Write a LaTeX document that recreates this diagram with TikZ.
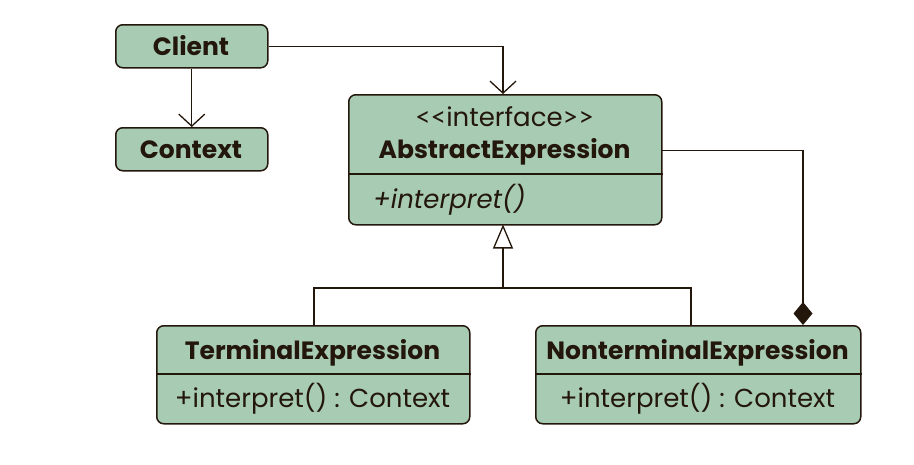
\documentclass[tikz,border=0pt]{standalone}
\usepackage{fontspec}
\setmainfont{Poppins}
\newfontfamily\ltfont{Lato}
\usetikzlibrary{arrows.meta,calc}
\definecolor{boxfill}{HTML}{A8CBB4}
\definecolor{ink}{HTML}{23160B}
\begin{document}
\begin{tikzpicture}[x=1pt,y=-1pt,
  box/.style={draw=ink,fill=boxfill,line width=1.5pt,rounded corners=7pt,inner sep=0pt,anchor=north west},
  ttl/.style={font=\bfseries\fontsize{25}{30}\selectfont,text=ink,anchor=base,inner sep=0pt},
  bdy/.style={font=\fontsize{26}{30}\selectfont,text=ink,anchor=base,inner sep=0pt},
  conn/.style={draw=ink,line width=1.3pt},
  openarr/.style={-{Straight Barb[length=12pt,width=26pt]}},
]
\useasboundingbox (0,0) rectangle (914,464);
% boxes
\node[box,minimum width=152pt,minimum height=43pt] (client) at (115,24) {};
\node[box,minimum width=152pt,minimum height=43pt] (context) at (115,127) {};
\node[box,minimum width=313pt,minimum height=130pt] (abs) at (348,94) {};
\node[box,minimum width=313pt,minimum height=98pt] (term) at (156,325) {};
\node[box,minimum width=325pt,minimum height=98pt] (nonterm) at (535,325) {};
% dividers
\draw[draw=ink,line width=1.3pt] (abs.west |- 0,174) -- (abs.east |- 0,174);
\draw[draw=ink,line width=1.3pt] (term.west |- 0,374) -- (term.east |- 0,374);
\draw[draw=ink,line width=1.3pt] (nonterm.west |- 0,374) -- (nonterm.east |- 0,374);
% texts
\node[ttl] (clientT) at (191,55) {Client};
\node[ttl] (contextT) at (191,158) {Context};
\node[bdy] (absS) at (504.5,126) {{\ltfont\fontsize{27}{30}\selectfont<\kern0pt<}interface{\ltfont\fontsize{27}{30}\selectfont>\kern0pt>}};
\node[ttl] (absT) at (504.5,158) {AbstractExpression};
\node[bdy,anchor=base west] (absM) at (373,208) {\itshape +interpret()};
\node[ttl] (termT) at (312.5,359) {TerminalExpression};
\node[bdy] (termM) at (312.5,407) {+interpret() : Context};
\node[ttl] (ntT) at (697.5,359) {NonterminalExpression};
\node[bdy] (ntM) at (697.5,407) {+interpret() : Context};
% connectors
\coordinate (absTop) at (503,94);
\draw[conn,openarr] (client.east) -| (absTop);
\draw[conn,openarr] (client.south) -- (context.north);
\coordinate (j) at (503,288);
\coordinate (absBot) at (503,224.5);
\coordinate (t1) at (314,325);
\coordinate (n1) at (691,325);
\draw[conn] (t1) |- (j) -| (n1);
\draw[conn,-{Triangle[open,length=24pt,width=20pt,fill=white]}] (j) -- (absBot);
\coordinate (absR) at (661,150.5);
\coordinate (ntTop) at (803,325);
\draw[conn,{Diamond[length=23pt,width=19pt,fill=ink]}-] (ntTop) |- (absR);
\end{tikzpicture}
\end{document}
